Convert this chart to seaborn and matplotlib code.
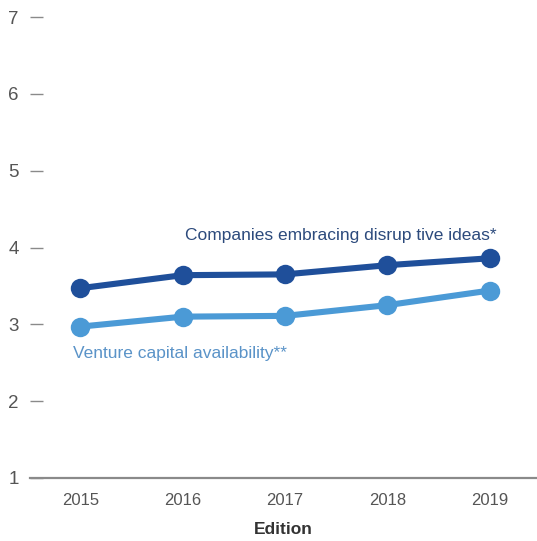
import matplotlib
matplotlib.use("Agg")
import matplotlib.pyplot as plt
import pandas as pd
import seaborn as sns

# Survey editions and average scores (1-7 scale)
editions = [2015, 2016, 2017, 2018, 2019]
disruptive_ideas = [3.47, 3.64, 3.65, 3.77, 3.86]
venture_capital = [2.97, 3.10, 3.11, 3.25, 3.44]
series_labels = ["Companies embracing disrup tive ideas*", "Venture capital availability**"]
y_ticks = [1, 2, 3, 4, 5, 6, 7]

dark_blue = "#1f4f9a"
light_blue = "#4b9ad6"

sns.set_theme(style="white")
plt.rcParams["font.family"] = ["Liberation Sans", "DejaVu Sans"]

df = pd.DataFrame({
    "Edition": editions * 2,
    "Score": disruptive_ideas + venture_capital,
    "Series": [series_labels[0]] * len(editions) + [series_labels[1]] * len(editions),
})

fig = plt.figure(figsize=(5.37, 5.41), dpi=100)
ax = fig.add_axes([0.056, 0.1165, 0.944, 0.852])

sns.lineplot(data=df, x="Edition", y="Score", hue="Series",
             palette=[dark_blue, light_blue], marker="o", markersize=14,
             linewidth=4.4, markeredgewidth=0, legend=False, ax=ax)

ax.set_xlim(2014.51, 2019.46)
ax.set_ylim(1, 7)
ax.set_xticks(editions)
ax.set_xticklabels([str(e) for e in editions])
ax.set_yticks(y_ticks)

for side in ["left", "right", "top"]:
    ax.spines[side].set_visible(False)
ax.spines["bottom"].set_color("#8a8a8a")
ax.spines["bottom"].set_linewidth(1.6)

ax.tick_params(axis="y", direction="in", length=9.5, width=1.0, color="#8a8a8a",
               labelsize=13.5, labelcolor="#555555", pad=8, left=True)
ax.tick_params(axis="x", length=0, labelsize=12, labelcolor="#555555", pad=11)

ax.set_ylabel("")
ax.set_xlabel("Edition", fontsize=12.5, fontweight="bold", color="#333333", labelpad=10)

ax.text(2019.07, disruptive_ideas[-1] + 0.29, series_labels[0], ha="right", va="center",
        fontsize=12.5, color="#2c4a7c")
ax.text(2014.93, venture_capital[0] - 0.35, series_labels[1], ha="left", va="center",
        fontsize=12.5, color="#5a93c8")

fig.savefig("out.png", dpi=100)
